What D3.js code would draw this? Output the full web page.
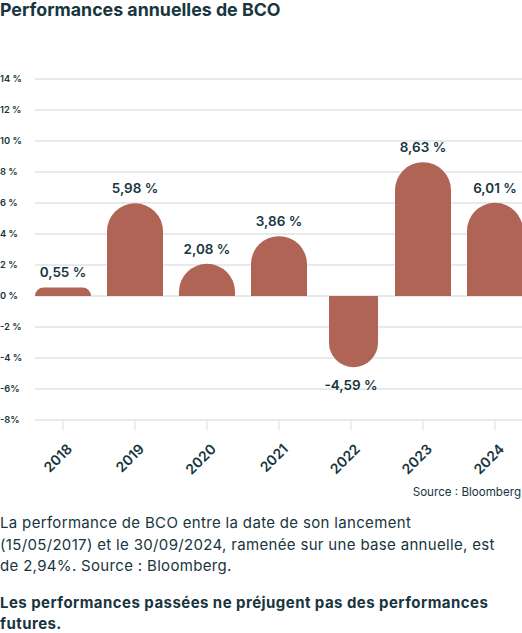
<!DOCTYPE html>
<html><head><meta charset="utf-8">
<script src="https://cdn.jsdelivr.net/npm/d3@7"></script>
<style>
body{margin:0;background:#fff;}
svg text{font-family:Inter,"Open Sans",sans-serif;fill:#183540;}
</style></head>
<body>
<svg id="c" width="522" height="633"></svg>
<script>
const categories = ["2018","2019","2020","2021","2022","2023","2024"];
const values = [0.55, 5.98, 2.08, 3.86, -4.59, 8.63, 6.01];
const valueLabels = ["0,55 %","5,98 %","2,08 %","3,86 %","-4,59 %","8,63 %","6,01 %"];
const yTicks = [14,12,10,8,6,4,2,0,-2,-4,-6,-8];
const yTickLabels = ["14 %","12 %","10 %","8 %","6 %","4 %","2 %","0 %","-2 %","-4 %","-6%","-8%"];
const title = "Performances annuelles de BCO";
const source = "Source : Bloomberg";
const note = ["La performance de BCO entre la date de son lancement","(15/05/2017) et le 30/09/2024, ramenée sur une base annuelle, est","de 2,94%. Source : Bloomberg."];
const disclaimer = ["Les performances passées ne préjugent pas des performances","futures."];

const svg = d3.select("#c");
const barColor = "#b06455", gridColor = "#dfe3e6";

const y = d3.scaleLinear().domain([-8,14]).range([420,79]);
const x = d3.scaleBand().domain(categories).range([27,531]).paddingInner(0.222).paddingOuter(0.111);

svg.append("text").attr("x",0).attr("y",16).text(title)
  .style("font-size","17.8px").style("font-weight","700");

// grid
svg.append("g").selectAll("line").data(yTicks).join("line")
  .attr("x1",35).attr("x2",522).attr("y1",d=>y(d)).attr("y2",d=>y(d))
  .attr("stroke",gridColor).attr("stroke-width",1.5);
svg.append("g").selectAll("text").data(yTicks).join("text")
  .attr("x",0).attr("y",d=>y(d)).attr("dy","0.35em")
  .text((d,i)=>yTickLabels[i]).style("font-size","9.3px").style("font-weight","600");

// x ticks
svg.append("g").selectAll("line").data(categories).join("line")
  .attr("x1",d=>x(d)+x.bandwidth()/2).attr("x2",d=>x(d)+x.bandwidth()/2)
  .attr("y1",y(-8)).attr("y2",y(-8)+11).attr("stroke",gridColor).attr("stroke-width",1.2);
svg.append("g").selectAll("text").data(categories).join("text")
  .attr("transform",d=>`translate(${x(d)+x.bandwidth()/2+10},${y(-8)+30}) rotate(-45)`)
  .attr("text-anchor","end").text(d=>d)
  .style("font-size","14px").style("font-weight","600");

// bars
function barPath(x0,w,v){
  const y0=y(0), y1=y(v), h=Math.abs(y1-y0);
  const r=Math.min(w/2,h);
  if(v>=0){
    return `M${x0},${y0}V${y1+r}A${r},${r} 0 0 1 ${x0+r},${y1}H${x0+w-r}A${r},${r} 0 0 1 ${x0+w},${y1+r}V${y0}Z`;
  } else {
    return `M${x0},${y0}V${y1-r}A${r},${r} 0 0 0 ${x0+r},${y1}H${x0+w-r}A${r},${r} 0 0 0 ${x0+w},${y1-r}V${y0}Z`;
  }
}
svg.append("g").selectAll("path").data(values).join("path")
  .attr("d",(v,i)=>{
    const w = v>=0 ? x.bandwidth() : x.bandwidth()*0.875;
    const cx = x(categories[i])+x.bandwidth()/2 + (v>=0?0:2.5);
    return barPath(cx-w/2,w,v);
  }).attr("fill",barColor);

svg.append("g").selectAll("text").data(values).join("text")
  .attr("x",(v,i)=>x(categories[i])+x.bandwidth()/2)
  .attr("y",v=>v>=0? y(v)-10 : y(v)+23)
  .attr("text-anchor","middle").text((v,i)=>valueLabels[i])
  .style("font-size","13.5px").style("font-weight","600");

svg.append("text").attr("x",521).attr("y",496).attr("text-anchor","end").text(source)
  .style("font-size","11.6px");

svg.append("g").selectAll("text").data(note).join("text")
  .attr("x",0).attr("y",(d,i)=>528+i*21.5).text(d=>d).style("font-size","15px")
  .style("letter-spacing","0.33px");
svg.append("g").selectAll("text").data(disclaimer).join("text")
  .attr("x",0).attr("y",(d,i)=>608+i*20.5).text(d=>d).style("font-size","15px")
  .style("font-weight","700").style("letter-spacing","0.45px");
</script>
</body></html>
